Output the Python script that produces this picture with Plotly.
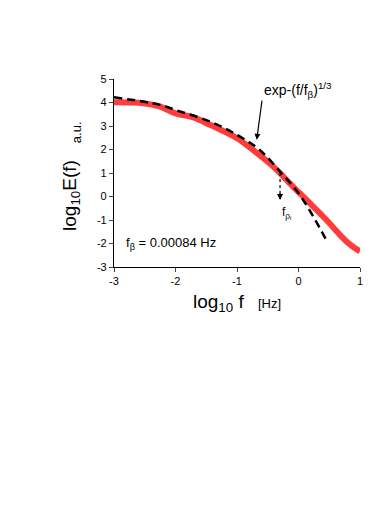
import plotly.graph_objects as go

# spectrum (red)
log_f = [-3.0, -2.52, -2.25, -2.0, -1.71, -1.44, -1.0, -0.74, -0.41, -0.09, 0.02, 0.45, 0.78, 1.0]
log_E = [4.01, 3.97, 3.82, 3.54, 3.37, 3.05, 2.48, 1.98, 1.27, 0.42, 0.14, -0.99, -1.91, -2.34]

# stretched exponential fit (black dashed)
fit_f = [-3.0, -2.25, -2.0, -1.44, -1.0, -0.63, -0.30, 0.0, 0.24, 0.47]
fit_E = [4.22, 3.90, 3.68, 3.19, 2.62, 1.98, 1.06, 0.14, -0.85, -1.95]

x_ticks = [-3, -2, -1, 0, 1]
y_ticks = [-3, -2, -1, 0, 1, 2, 3, 4, 5]

font = "Liberation Sans, Arial, sans-serif"

fig = go.Figure()
fig.add_trace(go.Scatter(x=log_f, y=log_E, mode="lines", line=dict(color="#ff3b3b", width=6, shape="spline"),
                         showlegend=False))
fig.add_trace(go.Scatter(x=fit_f, y=fit_E, mode="lines", line=dict(color="black", width=2.5, dash="8px,5px", shape="spline"),
                         showlegend=False))

# dotted marker at f_rho_i
fig.add_shape(type="line", x0=-0.3, y0=1.0, x1=-0.3, y1=-0.05, line=dict(color="black", width=1.2, dash="dot"))
fig.add_annotation(x=-0.3, y=-0.15, ax=-0.3, ay=0.2, axref="x", ayref="y", text="", showarrow=True,
                   arrowhead=2, arrowsize=1, arrowwidth=1.2, arrowcolor="black")
fig.add_annotation(x=-0.2, y=-0.72, text="f<sub>ρ<sub>i</sub></sub>", showarrow=False,
                   font=dict(family=font, size=12, color="black"))

# fit label with arrow
fig.add_annotation(x=-0.68, y=2.41, ax=-0.59, ay=4.15, axref="x", ayref="y", text="", showarrow=True,
                   arrowhead=2, arrowsize=1, arrowwidth=1.2, arrowcolor="black")
fig.add_annotation(x=-0.6, y=4.55, xanchor="left", text="exp-(f/f<sub>β</sub>)<sup>1/3</sup>", showarrow=False,
                   font=dict(family=font, size=14, color="black"))

fig.add_annotation(x=-2.83, y=-2.0, xanchor="left", text="f<sub>β</sub> = 0.00084 Hz", showarrow=False,
                   font=dict(family=font, size=13, color="black"))

# axis titles
fig.add_annotation(xref="paper", yref="paper", x=0.498, y=-0.19, xanchor="center", yanchor="middle",
                   text="log<sub>10</sub> f  <span style='font-size:13px'> [Hz]</span>", showarrow=False,
                   font=dict(family=font, size=19, color="black"))
fig.add_annotation(xref="paper", yref="paper", x=-0.175, y=0.383, xanchor="center", yanchor="middle",
                   textangle=-90, text="log<sub>10</sub>E(f)", showarrow=False,
                   font=dict(family=font, size=19, color="black"))
fig.add_annotation(xref="paper", yref="paper", x=-0.154, y=0.718, xanchor="center", yanchor="middle",
                   textangle=-90, text="a.u.", showarrow=False,
                   font=dict(family=font, size=13, color="black"))

fig.update_xaxes(range=[-3, 1], tickvals=x_ticks, ticktext=[str(v) for v in x_ticks],
                 ticks="outside", ticklen=4, tickwidth=1.2,
                 showline=True, linecolor="black", linewidth=1.2, showgrid=False, zeroline=False,
                 tickfont=dict(family=font, size=11, color="black"))
fig.update_yaxes(range=[-3, 5], tickvals=y_ticks, ticktext=[str(v) for v in y_ticks],
                 ticks="outside", ticklen=4, tickwidth=1.2,
                 showline=True, linecolor="black", linewidth=1.2, showgrid=False, zeroline=False,
                 tickfont=dict(family=font, size=11, color="black"))

fig.update_layout(width=390, height=510, margin=dict(l=106, r=38, t=71, b=251),
                  plot_bgcolor="white", paper_bgcolor="white", showlegend=False)

fig.write_html("out.html")
